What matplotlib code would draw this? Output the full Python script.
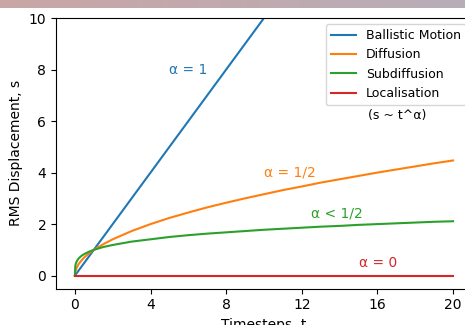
import numpy as np
import matplotlib.pyplot as plt

# values
t = [0, 0.02, 0.05, 0.1, 0.2, 0.35, 0.5, 0.75, 1, 1.5, 2, 3, 4, 5, 6, 7, 8, 9, 10,
     11, 12, 13, 14, 15, 16, 17, 18, 19, 20]
ballistic = t
diffusion = [0, 0.14, 0.22, 0.32, 0.45, 0.59, 0.71, 0.87, 1.0, 1.22, 1.41, 1.73, 2.0,
             2.24, 2.45, 2.65, 2.83, 3.0, 3.16, 3.32, 3.46, 3.61, 3.74, 3.87, 4.0,
             4.12, 4.24, 4.36, 4.47]
subdiffusion = [0, 0.38, 0.47, 0.56, 0.67, 0.77, 0.84, 0.93, 1.0, 1.11, 1.19, 1.32,
                1.41, 1.5, 1.57, 1.63, 1.68, 1.73, 1.78, 1.82, 1.86, 1.9, 1.93, 1.97,
                2.0, 2.03, 2.06, 2.09, 2.11]
localisation = [0] * len(t)

fig = plt.figure(figsize=(4.65, 3.25), dpi=100)

# strip of background at the very top
band = fig.add_axes([0, 1 - 8/325, 1, 8/325])
grad = np.linspace(0, 1, 256).reshape(1, -1)
band.imshow(np.dstack([0.79 - 0.07*grad, 0.65 + 0.03*grad, 0.65 + 0.07*grad]),
            aspect='auto', extent=[0, 1, 0, 1])
band.axis('off')

ax = fig.add_axes([56/465, 1 - 288.5/325, 416/465, 270.5/325])
ax.plot(t, ballistic, label='Ballistic Motion')
ax.plot(t, diffusion, label='Diffusion')
ax.plot(t, subdiffusion, label='Subdiffusion')
ax.plot(t, localisation, label='Localisation')

ax.text(5, 8, 'α = 1', color='C0', va='center')
ax.text(10, 4, 'α = 1/2', color='C1', va='center')
ax.text(12.5, 2.4, 'α < 1/2', color='C2', va='center')
ax.text(15, 0.5, 'α = 0', color='C3', va='center')
ax.text(15.5, 6.2, '(s ~ t^α)', va='center', fontsize=9)

ax.set_xlim(-1, 21)
ax.set_ylim(-0.5, 10)
ax.set_xticks([0, 4, 8, 12, 16, 20])
ax.set_xlabel('Timesteps, t')
ax.set_ylabel('RMS Displacement, s')
ax.legend(loc='upper right', fontsize=9)

fig.savefig('out.png')
